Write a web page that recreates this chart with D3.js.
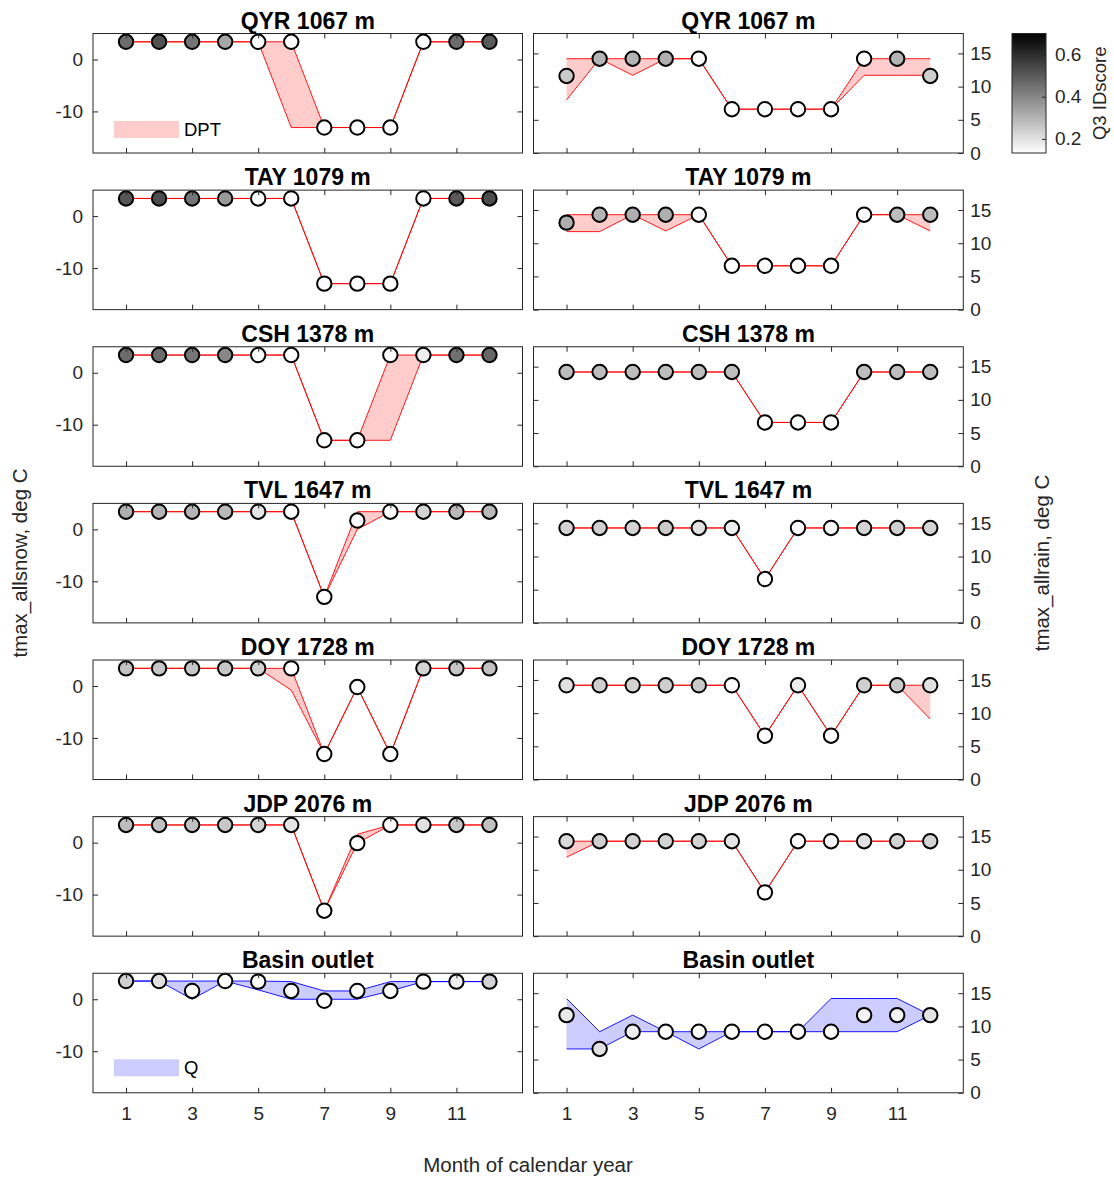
<!DOCTYPE html>
<html><head><meta charset="utf-8">
<script src="https://cdn.jsdelivr.net/npm/d3@7"></script>
<style>
body{margin:0;background:#fff}
svg{display:block}
text{font-family:"Liberation Sans",Arial,Helvetica,sans-serif}
</style>
</head><body>
<svg id="chart" width="1114" height="1179"></svg>
<script>
// ---------------- DATA ----------------
const months = [1,2,3,4,5,6,7,8,9,10,11,12];
const monthTicks = [1,3,5,7,9,11];
const snowTicks = [-10,0];
const rainTicks = [0,5,10,15];
const idTicks = [0.2,0.4,0.6];
const stationTitles = ["QYR 1067 m","TAY 1079 m","CSH 1378 m","TVL 1647 m","DOY 1728 m","JDP 2076 m","Basin outlet"];
const bandNames = ["DPT","Q"];

// QYR
const qyrSnowMk = [3.4,3.4,3.4,3.4,3.4,3.4,-13.1,-13.1,-13.1,3.4,3.4,3.4];
const qyrSnowHi = [3.4,3.4,3.4,3.4,3.4,3.4,-13.1,-13.1,-13.1,3.4,3.4,3.4];
const qyrSnowLo = [3.4,3.4,3.4,3.4,3.4,-13.1,-13.1,-13.1,-13.1,3.4,3.4,3.4];
const qyrSnowId = [0.46,0.52,0.44,0.33,0.13,0.13,0.13,0.13,0.13,0.13,0.46,0.50];
const qyrRainMk = [11.6,14.2,14.2,14.2,14.2,6.6,6.6,6.6,6.6,14.2,14.2,11.6];
const qyrRainHi = [14.2,14.2,14.2,14.2,14.2,6.6,6.6,6.6,6.6,14.2,14.2,14.2];
const qyrRainLo = [8.0,14.2,11.7,14.2,14.2,6.6,6.6,6.6,6.6,11.7,11.7,11.7];
const qyrRainId = [0.25,0.30,0.30,0.31,0.13,0.13,0.13,0.13,0.13,0.13,0.30,0.24];
// TAY
const taySnowMk = [3.4,3.4,3.4,3.4,3.4,3.4,-13.0,-13.0,-13.0,3.4,3.4,3.4];
const taySnowHi = [3.4,3.4,3.4,3.4,3.4,3.4,-13.0,-13.0,-13.0,3.4,3.4,3.4];
const taySnowLo = [3.4,3.4,3.4,3.4,3.4,3.4,-13.0,-13.0,-13.0,3.4,3.4,3.4];
const taySnowId = [0.51,0.53,0.44,0.36,0.13,0.13,0.13,0.13,0.13,0.13,0.50,0.53];
const tayRainMk = [13.1,14.3,14.3,14.3,14.3,6.6,6.6,6.6,6.6,14.3,14.3,14.3];
const tayRainHi = [14.3,14.3,14.3,14.3,14.3,6.6,6.6,6.6,6.6,14.3,14.3,14.3];
const tayRainLo = [11.75,11.75,14.3,11.85,14.3,6.6,6.6,6.6,6.6,14.3,14.3,11.85];
const tayRainId = [0.31,0.30,0.31,0.31,0.13,0.13,0.13,0.13,0.13,0.14,0.28,0.28];
// CSH
const cshSnowMk = [3.4,3.4,3.4,3.4,3.4,3.4,-13.0,-13.0,3.4,3.4,3.4,3.4];
const cshSnowHi = [3.4,3.4,3.4,3.4,3.4,3.4,-13.0,-13.0,3.4,3.4,3.4,3.4];
const cshSnowLo = [3.4,3.4,3.4,3.4,3.4,3.4,-13.0,-13.0,-13.0,3.4,3.4,3.4];
const cshSnowId = [0.46,0.46,0.44,0.40,0.13,0.13,0.13,0.13,0.13,0.17,0.45,0.47];
const cshRainMk = [14.2,14.2,14.2,14.2,14.2,14.2,6.6,6.6,6.6,14.2,14.2,14.2];
const cshRainHi = [14.2,14.2,14.2,14.2,14.2,14.2,6.6,6.6,6.6,14.2,14.2,14.2];
const cshRainLo = [14.2,14.2,14.2,14.2,14.2,14.2,6.6,6.6,6.6,14.2,14.2,14.2];
const cshRainId = [0.28,0.28,0.28,0.28,0.28,0.28,0.13,0.13,0.13,0.28,0.28,0.28];
// TVL
const tvlSnowMk = [3.4,3.4,3.4,3.4,3.4,3.4,-13.0,1.7,3.4,3.4,3.4,3.4];
const tvlSnowHi = [3.4,3.4,3.4,3.4,3.4,3.4,-13.0,3.4,3.4,3.4,3.4,3.4];
const tvlSnowLo = [3.4,3.4,3.4,3.4,3.4,3.4,-13.0,0.0,3.4,3.4,3.4,3.4];
const tvlSnowId = [0.31,0.30,0.30,0.29,0.19,0.13,0.13,0.13,0.13,0.23,0.29,0.29];
const tvlRainMk = [14.3,14.3,14.3,14.3,14.3,14.3,6.6,14.3,14.3,14.3,14.3,14.3];
const tvlRainHi = [14.3,14.3,14.3,14.3,14.3,14.3,6.6,14.3,14.3,14.3,14.3,14.3];
const tvlRainLo = [14.3,14.3,14.3,14.3,14.3,14.3,6.6,14.3,14.3,14.3,14.3,14.3];
const tvlRainId = [0.23,0.24,0.23,0.25,0.20,0.17,0.13,0.13,0.15,0.23,0.24,0.23];
// DOY
const doySnowMk = [3.4,3.4,3.4,3.4,3.4,3.4,-13.1,-0.2,-13.1,3.4,3.4,3.4];
const doySnowHi = [3.4,3.4,3.4,3.4,3.4,3.4,-13.1,-0.2,-13.1,3.4,3.4,3.4];
const doySnowLo = [3.4,3.4,3.4,3.4,3.4,-0.8,-13.1,-0.2,-13.1,3.4,3.4,3.4];
const doySnowId = [0.27,0.26,0.26,0.26,0.23,0.13,0.13,0.13,0.13,0.23,0.26,0.27];
const doyRainMk = [14.2,14.2,14.2,14.2,14.2,14.2,6.6,14.2,6.6,14.2,14.2,14.2];
const doyRainHi = [14.2,14.2,14.2,14.2,14.2,14.2,6.6,14.2,6.6,14.2,14.2,14.2];
const doyRainLo = [14.2,14.2,14.2,14.2,14.2,14.2,6.6,14.2,6.6,14.2,14.2,9.1];
const doyRainId = [0.20,0.24,0.23,0.24,0.25,0.13,0.13,0.17,0.13,0.24,0.25,0.20];
// JDP
const jdpSnowMk = [3.4,3.4,3.4,3.4,3.4,3.4,-13.1,-0.1,3.4,3.4,3.4,3.4];
const jdpSnowHi = [3.4,3.4,3.4,3.4,3.4,3.4,-13.1,1.6,3.4,3.4,3.4,3.4];
const jdpSnowLo = [3.4,3.4,3.4,3.4,3.4,3.4,-13.1,-0.1,3.4,3.4,3.4,3.4];
const jdpSnowId = [0.28,0.27,0.27,0.26,0.23,0.19,0.13,0.13,0.13,0.20,0.26,0.27];
const jdpRainMk = [14.3,14.3,14.3,14.3,14.3,14.3,6.6,14.3,14.3,14.3,14.3,14.3];
const jdpRainHi = [14.3,14.3,14.3,14.3,14.3,14.3,6.6,14.3,14.3,14.3,14.3,14.3];
const jdpRainLo = [11.9,14.3,14.3,14.3,14.3,14.3,6.6,14.3,14.3,14.3,14.3,14.3];
const jdpRainId = [0.22,0.24,0.23,0.23,0.23,0.19,0.13,0.13,0.15,0.20,0.23,0.23];
// Basin outlet
const basSnowMk = [3.5,3.5,1.6,3.5,3.4,1.6,-0.3,1.6,1.6,3.4,3.4,3.4];
const basSnowHi = [3.5,3.5,3.5,3.5,3.5,3.4,1.6,1.6,3.4,3.4,3.4,3.4];
const basSnowLo = [3.5,3.5,0.0,3.5,1.8,0.0,0.0,0.0,1.6,3.4,3.4,3.4];
const basSnowId = [0.24,0.20,0.13,0.13,0.13,0.13,0.13,0.13,0.13,0.13,0.17,0.23];
const basRainMk = [11.7,6.6,9.2,9.2,9.2,9.2,9.2,9.2,9.2,11.7,11.7,11.7];
const basRainHi = [14.2,9.2,11.7,9.2,9.2,9.2,9.2,9.2,14.2,14.2,14.2,11.7];
const basRainLo = [6.6,6.6,9.2,9.2,6.6,9.2,9.2,9.2,9.2,9.2,9.2,11.7];
const basRainId = [0.18,0.20,0.17,0.14,0.13,0.13,0.13,0.13,0.13,0.16,0.16,0.19];

// ---------------- TABLES ----------------
const snowPanels = [
  [qyrSnowMk,qyrSnowHi,qyrSnowLo,qyrSnowId],
  [taySnowMk,taySnowHi,taySnowLo,taySnowId],
  [cshSnowMk,cshSnowHi,cshSnowLo,cshSnowId],
  [tvlSnowMk,tvlSnowHi,tvlSnowLo,tvlSnowId],
  [doySnowMk,doySnowHi,doySnowLo,doySnowId],
  [jdpSnowMk,jdpSnowHi,jdpSnowLo,jdpSnowId],
  [basSnowMk,basSnowHi,basSnowLo,basSnowId]
];
const rainPanels = [
  [qyrRainMk,qyrRainHi,qyrRainLo,qyrRainId],
  [tayRainMk,tayRainHi,tayRainLo,tayRainId],
  [cshRainMk,cshRainHi,cshRainLo,cshRainId],
  [tvlRainMk,tvlRainHi,tvlRainLo,tvlRainId],
  [doyRainMk,doyRainHi,doyRainLo,doyRainId],
  [jdpRainMk,jdpRainHi,jdpRainLo,jdpRainId],
  [basRainMk,basRainHi,basRainLo,basRainId]
];

// ---------------- LAYOUT ----------------
const svg = d3.select("#chart");
const colX = [[93,522.5],[533.5,963.3]];
const rowTop0 = 33.5, rowPitch = 156.63, rowH = 119.5;
const axisCol = "#262626";
const tickFont = 19;
const idScale = d3.scaleLinear().domain([0.133,0.7]).range(["#ffffff","#000000"]).clamp(true);

function styleAxis(g){
  g.select(".domain").remove();
  g.selectAll(".tick line").attr("stroke",axisCol).attr("stroke-width",1);
  g.selectAll(".tick text").attr("fill",axisCol).attr("font-size",tickFont)
    .attr("font-family","'Liberation Sans',Arial,sans-serif");
}

function drawPanel(row,col,data){
  const [x0,x1] = colX[col];
  const top = rowTop0 + row*rowPitch, bot = top + rowH;
  const x = d3.scaleLinear().domain([0,13]).range([x0,x1]);
  const y = col===0 ? d3.scaleLinear().domain([-18,5]).range([bot,top])
                     : d3.scaleLinear().domain([0,18]).range([bot,top]);
  const isBasin = row===6;
  const fillCol = isBasin ? "#ccccff" : "#ffcccc";
  const edgeCol = isBasin ? "#0000ff" : "#ff0000";
  const [mk,hi,lo,id] = data;
  const pts = months.map((m,i)=>({m, mk:mk[i], hi:hi[i], lo:lo[i], id:id[i]}));
  const g = svg.append("g");

  g.append("rect").attr("x",x0).attr("y",top).attr("width",x1-x0).attr("height",rowH).attr("fill","#fff");

  // band
  const area = d3.area().x(d=>x(d.m)).y0(d=>y(d.lo)).y1(d=>y(d.hi));
  g.append("path").datum(pts).attr("d",area).attr("fill",fillCol).attr("stroke","none");
  const lineHi = d3.line().x(d=>x(d.m)).y(d=>y(d.hi));
  const lineLo = d3.line().x(d=>x(d.m)).y(d=>y(d.lo));
  g.append("path").datum(pts).attr("d",lineLo).attr("fill","none").attr("stroke",edgeCol).attr("stroke-width",0.9);
  g.append("path").datum(pts).attr("d",lineHi).attr("fill","none").attr("stroke",edgeCol).attr("stroke-width",0.9);

  // markers
  g.selectAll("circle.mk").data(pts).join("circle").attr("class","mk")
    .attr("cx",d=>x(d.m)).attr("cy",d=>y(d.mk)).attr("r",7.2)
    .attr("fill",d=>idScale(d.id)).attr("stroke","#000").attr("stroke-width",2);

  // legend
  if(col===0 && (row===0 || row===6)){
    const lx = 114, ly = row===0 ? top+87.5 : top+86;
    g.append("rect").attr("x",lx).attr("y",ly).attr("width",65).attr("height",17).attr("fill",fillCol);
    g.append("text").attr("x",184).attr("y",ly+15).attr("font-size",18.5).attr("fill","#000")
      .text(row===0 ? bandNames[0] : bandNames[1]);
  }

  // axes
  const yTicks = col===0 ? snowTicks : rainTicks;
  const fmt = d=>String(d);
  g.append("g").attr("transform",`translate(0,${bot})`)
    .call(d3.axisBottom(x).tickValues(monthTicks).tickSizeInner(-5).tickSizeOuter(0).tickPadding(14)
      .tickFormat(row===6 ? fmt : ()=>"")).call(styleAxis);
  g.append("g").attr("transform",`translate(0,${top})`)
    .call(d3.axisTop(x).tickValues(monthTicks).tickSizeInner(-5).tickSizeOuter(0).tickFormat(()=>"")).call(styleAxis);
  g.append("g").attr("transform",`translate(${x0},0)`)
    .call(d3.axisLeft(y).tickValues(yTicks).tickSizeInner(-5).tickSizeOuter(0).tickPadding(10)
      .tickFormat(col===0 ? fmt : ()=>"")).call(styleAxis);
  g.append("g").attr("transform",`translate(${x1},0)`)
    .call(d3.axisRight(y).tickValues(yTicks).tickSizeInner(-5).tickSizeOuter(0).tickPadding(7)
      .tickFormat(col===1 ? fmt : ()=>"")).call(styleAxis);

  g.append("rect").attr("x",x0).attr("y",top).attr("width",x1-x0).attr("height",rowH)
    .attr("fill","none").attr("stroke",axisCol).attr("stroke-width",1);

  g.append("text").attr("x",(x0+x1)/2).attr("y",top-5).attr("text-anchor","middle")
    .attr("font-size",23).attr("font-weight","bold").attr("fill","#000").text(stationTitles[row]);
}

for(let r=0;r<7;r++){
  drawPanel(r,0,snowPanels[r]);
  drawPanel(r,1,rainPanels[r]);
}

// ---------------- COLORBAR ----------------
const cbX0 = 1012, cbX1 = 1046, cbTop = 33.5, cbBot = 153;
const cbY = d3.scaleLinear().domain([0.133,0.7]).range([cbBot,cbTop]);
const defs = svg.append("defs");
const grad = defs.append("linearGradient").attr("id","cbgrad").attr("x1",0).attr("y1",1).attr("x2",0).attr("y2",0);
grad.append("stop").attr("offset","0%").attr("stop-color",idScale(0.133));
grad.append("stop").attr("offset","100%").attr("stop-color",idScale(0.7));
svg.append("rect").attr("x",cbX0).attr("y",cbTop).attr("width",cbX1-cbX0).attr("height",cbBot-cbTop)
  .attr("fill","url(#cbgrad)");
svg.append("g").attr("transform",`translate(${cbX1},0)`)
  .call(d3.axisRight(cbY).tickValues(idTicks).tickSizeInner(-4).tickSizeOuter(0).tickPadding(9).tickFormat(d3.format(".1f")))
  .call(styleAxis);
svg.append("rect").attr("x",cbX0).attr("y",cbTop).attr("width",cbX1-cbX0).attr("height",cbBot-cbTop)
  .attr("fill","none").attr("stroke",axisCol).attr("stroke-width",1);
svg.append("text").attr("transform",`translate(1106,${(cbTop+cbBot)/2}) rotate(-90)`)
  .attr("text-anchor","middle").attr("font-size",18.5).attr("fill",axisCol).text("Q3 IDscore");

// ---------------- AXIS TITLES ----------------
svg.append("text").attr("x",528).attr("y",1172).attr("text-anchor","middle")
  .attr("font-size",20.5).attr("fill",axisCol).text("Month of calendar year");
svg.append("text").attr("transform","translate(27,563) rotate(-90)").attr("text-anchor","middle")
  .attr("font-size",20.5).attr("fill",axisCol).text("tmax_allsnow, deg C");
svg.append("text").attr("transform","translate(1049,563) rotate(-90)").attr("text-anchor","middle")
  .attr("font-size",20.5).attr("fill",axisCol).text("tmax_allrain, deg C");
</script>
</body></html>
